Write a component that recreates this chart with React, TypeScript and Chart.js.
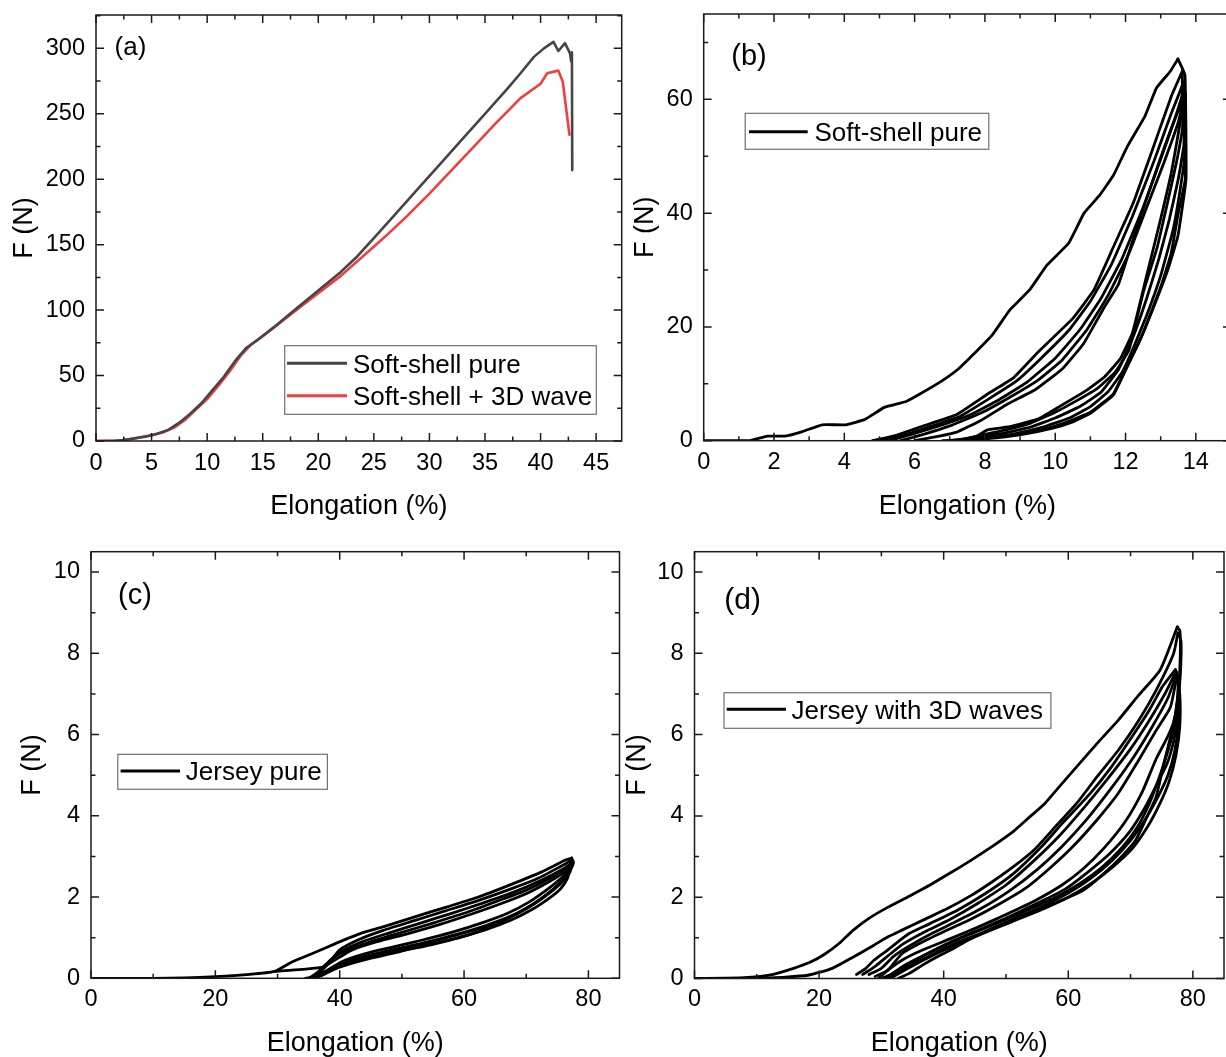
import React, { useEffect, useRef } from 'react';
import { Chart, registerables } from 'chart.js';

Chart.register(...registerables);

type Pt = [number, number];

// ---------- (a) tensile curves ----------
const softShellPure: Pt[] = [
  [0, 0], [1.5, 0], [2.5, 0.8], [3.5, 2], [4.5, 3.5], [5.5, 5.5], [6.5, 8.5], [7.5, 14], [8.5, 21], [9.5, 29],
  [10.5, 39], [11.5, 49], [12.5, 61], [13.5, 71], [14.5, 77], [16, 87], [18, 101], [20, 115], [22, 129], [23.5, 141],
  [25, 155], [27, 174], [29, 193], [31, 212], [33, 231], [35, 250], [37, 269], [38.2, 281], [39.4, 293.5], [40.3, 300],
  [41.16, 305], [41.6, 298], [42.2, 304], [42.66, 296], [42.75, 290], [42.82, 297], [42.85, 207],
];
const softShell3DWave: Pt[] = [
  [0, 0], [2, 0.3], [3, 1.3], [4, 2.8], [5, 4.3], [6, 6.5], [7, 10], [8, 16], [9, 24], [10, 32],
  [11, 42], [12, 53], [13, 65], [14, 74], [15, 80], [16, 86.5], [18, 100], [20, 113], [22, 126], [24, 141],
  [26, 156], [28, 172], [30, 189], [32, 207], [34, 225], [36, 243], [38.2, 262], [40, 273], [40.6, 281], [41.6, 283],
  [42.0, 274.5], [42.6, 234],
];

// ---------- (b) soft-shell pure cycles ----------
const bLoad1: Pt[] = [
  [0, 0], [1.31, 0], [1.81, 0.8], [2.31, 0.8], [2.81, 1.6], [3.37, 2.8], [4.04, 2.8], [4.59, 3.75], [5.15, 5.9],
  [5.76, 6.9], [6.26, 8.6], [6.82, 10.7], [7.26, 12.7], [7.71, 15.4], [8.21, 18.6], [8.71, 23], [9.27, 26.5],
  [9.77, 30.9], [10.38, 34.7], [10.82, 40], [11.27, 43.2], [11.66, 46.7], [12.05, 51.7], [12.55, 57], [12.88, 62],
  [13.27, 64.9], [13.49, 67.1],
];
const bUnload1: Pt[] = [
  [13.49, 67.1], [13.69, 64.3], [13.72, 46], [13.49, 36], [13.2, 30], [12.8, 23.5], [12.4, 17.5], [12.0, 12.5],
  [11.65, 8.2], [11.0, 5], [10.3, 3.2], [9.6, 1.9], [8.9, 1.1], [8.2, 0.6], [7.5, 0.2], [6.8, 0],
];
const bLoad2: Pt[] = [
  [4.8, 0], [5.5, 1.0], [6.2, 2.5], [7.2, 4.6], [8.1, 8.3], [8.8, 11], [9.5, 15.5], [10.5, 21.5], [11.1, 26.5],
  [11.65, 34], [12.2, 41.5], [12.7, 50], [13.3, 60.5], [13.62, 65],
];
const bUnload2: Pt[] = [
  [13.62, 65], [13.6, 58], [13.5, 54], [13.3, 47], [13.0, 39], [12.6, 29], [12.2, 19], [11.85, 14.4], [11.4, 11.2],
  [10.9, 8.9], [10.2, 6.3], [9.54, 3.9], [8.75, 2.5], [8.07, 1.9], [7.77, 0.8], [7.2, 0],
];
const bLoad3: Pt[] = [
  [5.0, 0], [5.8, 1.2], [6.5, 2.6], [7.3, 4.3], [8.1, 7.3], [8.9, 10.5], [9.6, 14.5], [10.4, 19.5], [11.0, 24.5],
  [11.6, 31], [12.2, 39.5], [12.8, 49], [13.3, 57.5], [13.65, 63],
];
const bUnload3: Pt[] = [
  [13.65, 63], [13.62, 55], [13.45, 49], [13.2, 42], [12.9, 34], [12.5, 26], [12.1, 16], [11.7, 12], [11.2, 9.2],
  [10.6, 7], [10.0, 5], [9.3, 3.1], [8.6, 1.9], [7.9, 1.0], [7.3, 0],
];
const bLoad4: Pt[] = [
  [5.3, 0], [6.0, 1.3], [6.8, 2.8], [7.6, 4.6], [8.4, 7.2], [9.2, 10.3], [10.0, 14.5], [10.7, 19.5], [11.3, 25],
  [11.9, 32], [12.5, 41], [13.0, 49.5], [13.4, 56.5], [13.68, 62],
];
const bUnload4: Pt[] = [
  [13.68, 62], [13.66, 52], [13.5, 46], [13.25, 39], [12.95, 32], [12.6, 25], [12.2, 18], [11.8, 12.5], [11.3, 8.5],
  [10.7, 6], [10.0, 4], [9.3, 2.4], [8.5, 1.3], [7.6, 0.5], [7.0, 0],
];
const bLoad5: Pt[] = [
  [5.6, 0], [6.3, 1.2], [7.0, 2.6], [7.9, 4.9], [8.7, 7.6], [9.5, 10.6], [10.2, 14.2], [10.9, 19.5], [11.5, 25.5],
  [12.1, 33], [12.6, 41], [13.1, 49], [13.5, 56], [13.7, 61],
];
const bUnload5: Pt[] = [
  [13.7, 61], [13.68, 50], [13.55, 44], [13.35, 37], [13.0, 29], [12.6, 22], [12.2, 16], [11.9, 12], [11.5, 8.6],
  [11.0, 6], [10.4, 4], [9.7, 2.5], [8.9, 1.3], [8.1, 0.5], [7.3, 0],
];
const bLoad6: Pt[] = [
  [6.0, 0], [6.7, 0.8], [7.2, 1.5], [7.87, 3.5], [8.66, 6.5], [9.44, 9], [10.2, 12.6], [10.8, 17], [11.4, 23.5],
  [11.8, 27.5], [12.3, 37], [12.9, 48], [13.46, 57.4], [13.7, 60],
];
const bUnload6: Pt[] = [
  [13.7, 60], [13.7, 46], [13.5, 40], [13.3, 33], [13.0, 27], [12.5, 19], [12.0, 12.4], [11.65, 8], [11.0, 4.8],
  [10.5, 3.3], [9.93, 2.2], [9.15, 1.2], [8.16, 0.4], [7.0, 0],
];

// ---------- (c) jersey pure cycles ----------
const cLoad1: Pt[] = [
  [0, 0], [10, 0], [15, 0.01], [20, 0.04], [25, 0.09], [29.5, 0.17], [32.4, 0.41], [35.6, 0.61], [39.4, 0.86],
  [43.3, 1.1], [47.1, 1.27], [52.2, 1.52], [57.3, 1.76], [62.3, 2.0], [67.4, 2.3], [72.5, 2.62], [76.3, 2.91], [77.3, 2.96],
];
const cUnload1: Pt[] = [
  [77.3, 2.96], [77.6, 2.85], [77.0, 2.65], [76.0, 2.45], [74.4, 2.2], [71.9, 1.9], [68.7, 1.6], [64.9, 1.32],
  [60.4, 1.05], [55.3, 0.85], [50.3, 0.68], [45.2, 0.5], [40.1, 0.28], [36.5, 0.05], [34.5, 0],
];
const cLoad2: Pt[] = [
  [29.5, 0.17], [34, 0.22], [37.5, 0.28], [38.5, 0.42], [40, 0.7], [43, 0.95], [47, 1.18], [52, 1.42], [57, 1.66],
  [62, 1.9], [67, 2.17], [72, 2.47], [75.5, 2.75], [77.2, 2.9],
];
const cUnload2: Pt[] = [
  [77.2, 2.9], [76.8, 2.65], [75.5, 2.45], [73.5, 2.2], [70.5, 1.88], [67, 1.6], [63, 1.37], [58, 1.13], [53, 0.93],
  [48, 0.75], [44, 0.6], [40.5, 0.42], [38, 0.2], [36, 0],
];
const cLoad3: Pt[] = [
  [35, 0], [37, 0.2], [38.5, 0.45], [40.5, 0.68], [44, 0.92], [48, 1.12], [53, 1.36], [58, 1.6], [63, 1.85],
  [68, 2.12], [72.5, 2.42], [76, 2.7], [77.4, 2.85],
];
const cUnload3: Pt[] = [
  [77.4, 2.85], [77, 2.6], [75.8, 2.38], [73.8, 2.12], [71, 1.82], [67.5, 1.53], [63.5, 1.3], [58.5, 1.07],
  [53.5, 0.87], [48.5, 0.7], [44, 0.54], [40.5, 0.36], [37.5, 0.12], [35.5, 0],
];
const cLoad4: Pt[] = [
  [35.5, 0], [37.5, 0.3], [39, 0.5], [41, 0.68], [45, 0.9], [50, 1.13], [55, 1.36], [60, 1.6], [65, 1.88],
  [70, 2.17], [74, 2.48], [76.8, 2.75],
];
const cUnload4: Pt[] = [
  [76.8, 2.75], [76.5, 2.5], [75.3, 2.3], [73.3, 2.05], [70.5, 1.76], [67, 1.48], [63, 1.25], [58, 1.03], [53, 0.83],
  [48, 0.66], [44, 0.52], [40, 0.33], [37, 0.08], [35, 0],
];
const cLoad5: Pt[] = [
  [36, 0], [38, 0.33], [40, 0.52], [42, 0.7], [46, 0.9], [51, 1.1], [56, 1.32], [61, 1.57], [66, 1.84],
  [70.5, 2.12], [74.5, 2.45], [77, 2.7],
];
const cUnload5: Pt[] = [
  [77, 2.7], [76.6, 2.45], [75.5, 2.2], [73.5, 1.95], [71, 1.7], [67.5, 1.43], [63.5, 1.2], [58.5, 0.98],
  [53.5, 0.8], [48.5, 0.64], [44, 0.48], [40, 0.3], [37, 0.06], [35, 0],
];

// ---------- (d) jersey with 3D waves cycles ----------
const dLoad1: Pt[] = [
  [0, 0], [8, 0.02], [12, 0.08], [15.9, 0.25], [18.7, 0.41], [21, 0.61], [23.2, 0.86], [25.5, 1.19], [28, 1.48],
  [31, 1.75], [34.4, 2.02], [37.8, 2.3], [41.1, 2.6], [44.5, 2.92], [47.8, 3.25], [51.2, 3.62], [54, 4.0],
  [56.2, 4.3], [58.5, 4.71], [61.3, 5.2], [64.6, 5.78], [68, 6.35], [71.3, 6.97], [74.7, 7.58], [76.6, 8.28], [77.5, 8.65],
];
const dUnload1: Pt[] = [
  [77.5, 8.65], [77.9, 8.56], [78, 8.15], [77.8, 7.33], [77.2, 6.5], [76.4, 5.94], [75.2, 5.2], [74.1, 4.47],
  [72.4, 3.9], [70.8, 3.4], [68.5, 2.99], [65.7, 2.58], [62.4, 2.17], [59, 1.93], [55.1, 1.68], [51.2, 1.43],
  [47.8, 1.23], [45.6, 1.07], [43.4, 0.9], [41.1, 0.7], [38.9, 0.53], [36.6, 0.33], [34.4, 0.12], [32.7, 0],
];
const dLoad2: Pt[] = [
  [10, 0], [14, 0.03], [18.2, 0.08], [22.1, 0.25], [25.5, 0.53], [28.8, 0.82], [31, 1.02], [33.3, 1.19], [36.6, 1.43],
  [40.6, 1.72], [44.5, 2.05], [47.8, 2.38], [51.2, 2.75], [54.5, 3.16], [57.9, 3.73], [61.3, 4.3], [64.6, 4.96],
  [68, 5.61], [71.3, 6.35], [74.1, 7.09], [76.9, 7.99], [77.6, 8.5],
];
const dUnload2: Pt[] = [
  [77.6, 8.5], [78.1, 8.3], [78.0, 7.5], [77.6, 6.8], [76.9, 6.1], [75.8, 5.5], [74.5, 4.9], [73, 4.3], [71, 3.7],
  [68.5, 3.2], [65.5, 2.75], [62, 2.35], [58, 2.0], [54, 1.72], [50, 1.45], [46, 1.2], [42, 0.95], [38.5, 0.7],
  [35.5, 0.45], [33, 0.2], [31, 0],
];
const dLoad3: Pt[] = [
  [26, 0.1], [27.5, 0.25], [28.8, 0.45], [31, 0.7], [34.4, 1.1], [37.8, 1.35], [42.2, 1.68], [46.7, 2.09], [51.2, 2.58],
  [55.7, 3.24], [59, 3.81], [63.5, 4.55], [66.9, 5.2], [70.2, 5.94], [73, 6.6], [75.2, 7.2], [77.2, 7.6],
];
const dUnload3: Pt[] = [
  [77.2, 7.6], [77.6, 7.4], [77.5, 6.8], [76.9, 6.3], [75.8, 5.9], [74.1, 5.4], [71.9, 4.6], [69.1, 3.85], [65.7, 3.2],
  [62.4, 2.7], [59, 2.3], [54.5, 1.9], [50.1, 1.58], [45.6, 1.27], [41.1, 0.98], [36.6, 0.7], [33.3, 0.45], [31, 0.2], [29.5, 0],
];
const dLoad4: Pt[] = [
  [27, 0.1], [29, 0.3], [31, 0.55], [33.5, 0.85], [37, 1.15], [41, 1.45], [45.5, 1.85], [50, 2.3], [54.5, 2.9],
  [58.5, 3.5], [62.5, 4.2], [66.5, 4.95], [70, 5.65], [73, 6.35], [75.5, 7.0], [77.3, 7.55],
];
const dUnload4: Pt[] = [
  [77.3, 7.55], [77.7, 7.2], [77.6, 6.5], [77, 5.9], [75.9, 5.3], [74.3, 4.8], [72.3, 4.2], [69.8, 3.6], [66.5, 3.05],
  [63, 2.6], [59.5, 2.2], [55, 1.85], [50.5, 1.52], [46, 1.22], [41.5, 0.92], [37.5, 0.62], [34, 0.35], [31.5, 0.1], [30, 0],
];
const dLoad5: Pt[] = [
  [28, 0.1], [30, 0.25], [32, 0.55], [34.5, 0.8], [38, 1.1], [42, 1.4], [46, 1.72], [50.5, 2.15], [55, 2.68],
  [59, 3.25], [63, 3.92], [67, 4.7], [70.5, 5.45], [73.5, 6.2], [76, 6.9], [77.4, 7.5],
];
const dUnload5: Pt[] = [
  [77.4, 7.5], [77.8, 7.1], [77.7, 6.3], [77.1, 5.6], [76, 5.0], [74.5, 4.5], [72.5, 3.95], [70, 3.4], [67, 2.9],
  [63.5, 2.45], [60, 2.1], [55.5, 1.75], [51, 1.45], [46.5, 1.15], [42, 0.87], [38, 0.58], [34.5, 0.3], [32, 0.08], [30.5, 0],
];
const dLoad6: Pt[] = [
  [29, 0.05], [31, 0.2], [33.3, 0.61], [36.1, 0.86], [40, 1.15], [44.5, 1.47], [49, 1.84], [53.4, 2.25], [57.3, 2.75],
  [60.7, 3.24], [64.6, 3.9], [68, 4.55], [71.3, 5.37], [74.1, 6.1], [76.4, 6.68], [77.4, 7.42],
];
const dUnload6: Pt[] = [
  [77.4, 7.42], [77.9, 7.0], [77.9, 6.2], [77.3, 5.5], [76.2, 4.85], [74.7, 4.3], [72.8, 3.75], [70.3, 3.2], [67.2, 2.75],
  [63.8, 2.35], [60, 2.0], [55.5, 1.68], [51, 1.4], [46.5, 1.12], [42, 0.83], [38, 0.55], [34.5, 0.27], [32, 0.05], [31, 0],
];

// ---------- labels ----------
const xTitle = 'Elongation (%)';
const yTitle = 'F (N)';
const legendA = ['Soft-shell pure', 'Soft-shell + 3D wave'];
const legendB = ['Soft-shell pure'];
const legendC = ['Jersey pure'];
const legendD = ['Jersey with 3D waves'];
const panelLabels = ['(a)', '(b)', '(c)', '(d)'];

const FONT = '"Liberation Sans", Arial, Helvetica, sans-serif';
const GRAY = '#454545';
const RED = '#ef3f3f';
const BLACK = '#000000';

interface Curve { data: Pt[]; color: string; width: number }
interface PanelSpec {
  canvas: { left: number; top: number; width: number; height: number };
  area: { left: number; top: number; right: number; bottom: number };
  x: { min: number; max: number; step: number };
  y: { min: number; max: number; step: number };
  curves: Curve[];
  tension: number;
  label: { text: string; x: number; y: number; size: number };
  legend: { box: [number, number, number, number]; lineX: [number, number]; textX: number; items: { text: string; color: string; y: number }[] };
  yTitlePad: number;
  xTitlePad: number;
  xTickPad: number;
}

const blacks = (arrs: Pt[][]): Curve[] => arrs.map((d) => ({ data: d, color: BLACK, width: 2.8 }));

const panels: PanelSpec[] = [
  {
    canvas: { left: 0, top: 0, width: 624, height: 530 },
    area: { left: 96, top: 15, right: 621.7, bottom: 441 },
    x: { min: 0, max: 47.3, step: 5 },
    y: { min: 0, max: 325.5, step: 50 },
    curves: [
      { data: softShellPure, color: GRAY, width: 2.6 },
      { data: softShell3DWave, color: RED, width: 2.6 },
    ],
    tension: 0,
    label: { text: panelLabels[0], x: 130.5, y: 47.7, size: 26 },
    legend: {
      box: [284.7, 345.7, 596.3, 414.3], lineX: [287, 347], textX: 353,
      items: [{ text: legendA[0], color: GRAY, y: 363.3 }, { text: legendA[1], color: RED, y: 395.7 }],
    },
    yTitlePad: 11, xTitlePad: 9.5, xTickPad: 8,
  },
  {
    canvas: { left: 624, top: 0, width: 616, height: 530 },
    area: { left: 703.7, top: 14, right: 1231, bottom: 440.7 },
    x: { min: 0, max: 15, step: 2 },
    y: { min: 0, max: 75, step: 20 },
    curves: blacks([bLoad1, bUnload1, bLoad2, bUnload2, bLoad3, bUnload3, bLoad4, bUnload4, bLoad5, bUnload5, bLoad6, bUnload6]),
    tension: 0.1,
    label: { text: panelLabels[1], x: 749, y: 56.7, size: 29 },
    legend: {
      box: [745.2, 113.3, 988.8, 149.3], lineX: [749, 807.7], textX: 814.4,
      items: [{ text: legendB[0], color: BLACK, y: 131.7 }],
    },
    yTitlePad: 8, xTitlePad: 9.5, xTickPad: 8,
  },
  {
    canvas: { left: 0, top: 530, width: 624, height: 527 },
    area: { left: 91, top: 551.7, right: 619.5, bottom: 978.3 },
    x: { min: 0, max: 85, step: 20 },
    y: { min: 0, max: 10.5, step: 2 },
    curves: blacks([cLoad1, cUnload1, cLoad2, cUnload2, cLoad3, cUnload3, cLoad4, cUnload4, cLoad5, cUnload5]),
    tension: 0.2,
    label: { text: panelLabels[2], x: 135, y: 595.5, size: 29 },
    legend: {
      box: [117.8, 754.3, 327.4, 789.3], lineX: [120.6, 180], textX: 185.8,
      items: [{ text: legendC[0], color: BLACK, y: 771 }],
    },
    yTitlePad: 19, xTitlePad: 0, xTickPad: 7,
  },
  {
    canvas: { left: 624, top: 530, width: 616, height: 527 },
    area: { left: 694.5, top: 551.7, right: 1224, bottom: 978.5 },
    x: { min: 0, max: 85, step: 20 },
    y: { min: 0, max: 10.5, step: 2 },
    curves: blacks([dLoad1, dUnload1, dLoad2, dUnload2, dLoad3, dUnload3, dLoad4, dUnload4, dLoad5, dUnload5, dLoad6, dUnload6]),
    tension: 0.2,
    label: { text: panelLabels[3], x: 742.6, y: 600.8, size: 30 },
    legend: {
      box: [724, 692.7, 1050.9, 728.3], lineX: [726.7, 786], textX: 791.5,
      items: [{ text: legendD[0], color: BLACK, y: 709.3 }],
    },
    yTitlePad: 0, xTitlePad: 0, xTickPad: 7,
  },
];

function Panel({ spec }: { spec: PanelSpec }) {
  const ref = useRef<HTMLCanvasElement | null>(null);
  useEffect(() => {
    const cv = ref.current;
    if (!cv) return;
    const c = spec.canvas;
    const area = spec.area;
    const cx = (px: number) => px - c.left;
    const cy = (py: number) => py - c.top;

    const deco = {
      id: 'deco',
      afterDraw(chart: any) {
        const ctx: CanvasRenderingContext2D = chart.ctx;
        const a = chart.chartArea;
        const xs = chart.scales.x;
        const ys = chart.scales.y;
        ctx.save();
        ctx.strokeStyle = '#1a1a1a';
        ctx.lineWidth = 1.5;
        const MAJ = 8;
        const MIN = 4.5;
        const xMaj: number[] = xs.ticks.map((t: any) => t.value);
        const yMaj: number[] = ys.ticks.map((t: any) => t.value);
        const xMin: number[] = xMaj.map((v) => v + spec.x.step / 2).filter((v) => v < spec.x.max);
        const yMin: number[] = yMaj.map((v) => v + spec.y.step / 2).filter((v) => v < spec.y.max);
        ctx.beginPath();
        const vx = (v: number, len: number) => {
          const p = xs.getPixelForValue(v);
          ctx.moveTo(p, a.bottom); ctx.lineTo(p, a.bottom - len);
          ctx.moveTo(p, a.top); ctx.lineTo(p, a.top + len);
        };
        const vy = (v: number, len: number) => {
          const p = ys.getPixelForValue(v);
          ctx.moveTo(a.left, p); ctx.lineTo(a.left + len, p);
          ctx.moveTo(a.right, p); ctx.lineTo(a.right - len, p);
        };
        xMaj.forEach((v) => vx(v, MAJ));
        xMin.forEach((v) => vx(v, MIN));
        yMaj.forEach((v) => vy(v, MAJ));
        yMin.forEach((v) => vy(v, MIN));
        ctx.stroke();
        ctx.strokeRect(a.left, a.top, a.right - a.left, a.bottom - a.top);

        // panel label
        ctx.fillStyle = '#000';
        ctx.font = `${spec.label.size}px ${FONT}`;
        ctx.textAlign = 'center';
        ctx.textBaseline = 'middle';
        ctx.fillText(spec.label.text, cx(spec.label.x), cy(spec.label.y));

        // legend
        const lg = spec.legend;
        ctx.fillStyle = '#fff';
        ctx.fillRect(cx(lg.box[0]), cy(lg.box[1]), lg.box[2] - lg.box[0], lg.box[3] - lg.box[1]);
        ctx.strokeStyle = '#707070';
        ctx.lineWidth = 1.2;
        ctx.strokeRect(cx(lg.box[0]), cy(lg.box[1]), lg.box[2] - lg.box[0], lg.box[3] - lg.box[1]);
        ctx.font = `26px ${FONT}`;
        ctx.textAlign = 'left';
        ctx.textBaseline = 'alphabetic';
        lg.items.forEach((it) => {
          ctx.strokeStyle = it.color;
          ctx.lineWidth = 3;
          ctx.beginPath();
          ctx.moveTo(cx(lg.lineX[0]), cy(it.y));
          ctx.lineTo(cx(lg.lineX[1]), cy(it.y));
          ctx.stroke();
          ctx.fillStyle = '#000';
          ctx.fillText(it.text, cx(lg.textX), cy(it.y) + 9.2);
        });
        ctx.restore();
      },
    };

    const tickFont = { family: FONT, size: 23.5 };
    const titleFont = { family: FONT, size: 27, lineHeight: 1 };
    const zeroPad = (s: any) => { s.paddingTop = 0; s.paddingBottom = 0; s.paddingLeft = 0; s.paddingRight = 0; };

    const chart = new Chart(cv, {
      type: 'scatter',
      data: {
        datasets: spec.curves.map((cu) => ({
          data: cu.data.map(([x, y]) => ({ x, y })),
          showLine: true,
          borderColor: cu.color,
          backgroundColor: cu.color,
          borderWidth: cu.width,
          borderJoinStyle: 'round',
          borderCapStyle: 'round',
          pointRadius: 0,
          pointHoverRadius: 0,
          tension: spec.tension,
          fill: false,
        })),
      },
      options: {
        animation: false,
        responsive: false,
        maintainAspectRatio: false,
        devicePixelRatio: 1,
        events: [],
        layout: { padding: { left: 0, top: area.top - c.top, right: c.left + c.width - area.right, bottom: 0 } },
        plugins: { legend: { display: false }, tooltip: { enabled: false }, title: { display: false } },
        scales: {
          x: {
            type: 'linear',
            min: spec.x.min,
            max: spec.x.max,
            afterFit: (s: any) => { s.height = c.top + c.height - area.bottom; zeroPad(s); },
            grid: { display: false, drawTicks: false, tickLength: 0 },
            border: { display: false },
            ticks: { stepSize: spec.x.step, includeBounds: false, color: '#000', font: tickFont, padding: spec.xTickPad, maxRotation: 0, autoSkip: false },
            title: { display: true, text: xTitle, color: '#000', font: titleFont, padding: { top: 0, bottom: spec.xTitlePad } },
          },
          y: {
            type: 'linear',
            min: spec.y.min,
            max: spec.y.max,
            afterFit: (s: any) => { s.width = area.left - c.left; zeroPad(s); },
            grid: { display: false, drawTicks: false, tickLength: 0 },
            border: { display: false },
            ticks: { stepSize: spec.y.step, includeBounds: false, color: '#000', font: tickFont, padding: 11, autoSkip: false },
            title: { display: true, text: yTitle, color: '#000', font: titleFont, padding: { top: spec.yTitlePad, bottom: 0 } },
          },
        },
      } as any,
      plugins: [deco as any],
    });
    return () => chart.destroy();
  }, [spec]);

  return (
    <canvas
      ref={ref}
      width={spec.canvas.width}
      height={spec.canvas.height}
      style={{ position: 'absolute', left: spec.canvas.left, top: spec.canvas.top, width: spec.canvas.width, height: spec.canvas.height }}
    />
  );
}

export default function App() {
  return (
    <div style={{ position: 'fixed', left: 0, top: 0, width: 1226, height: 1057, overflow: 'hidden', background: '#fff' }}>
      {panels.map((p, i) => (
        <Panel key={i} spec={p} />
      ))}
    </div>
  );
}
